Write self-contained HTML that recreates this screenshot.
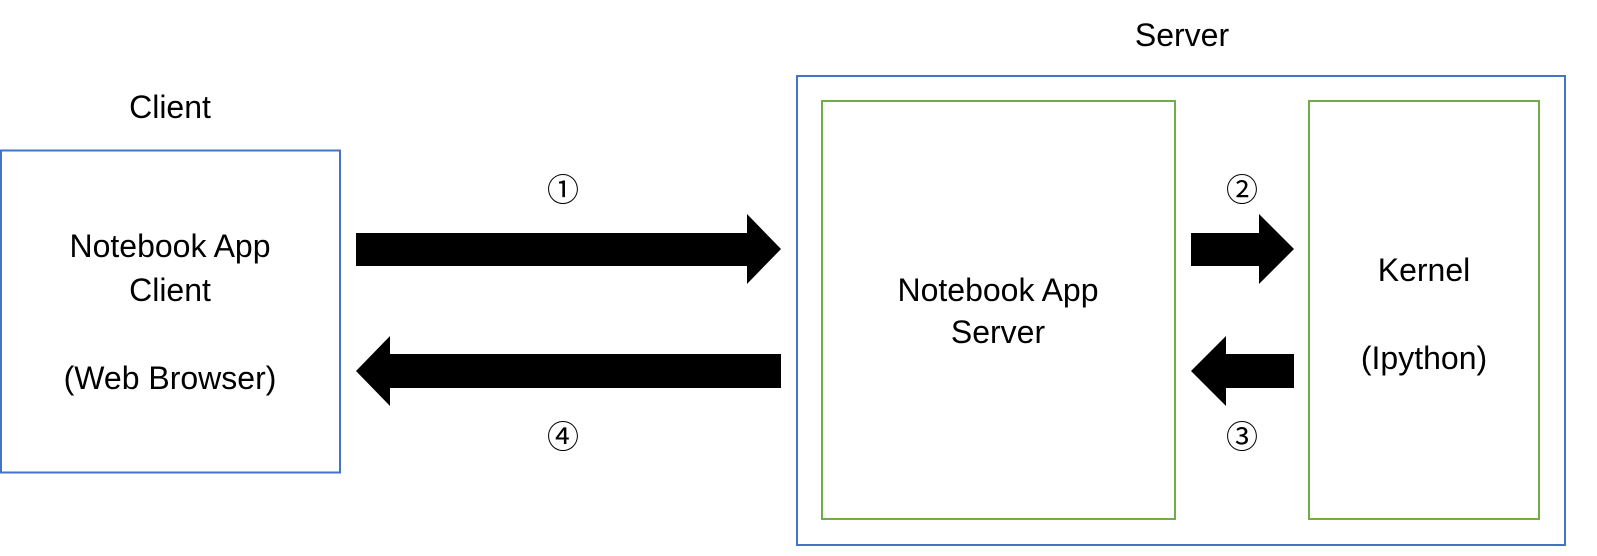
<!DOCTYPE html>
<html><head><meta charset="utf-8"><style>
html,body{margin:0;padding:0;background:#fff;}
svg{display:block;}
text{font-family:"Liberation Sans","Noto Sans CJK KR",sans-serif;font-size:32px;fill:#000;}
</style></head><body>
<svg width="1597" height="556" viewBox="0 0 1597 556" xmlns="http://www.w3.org/2000/svg">
<rect x="1" y="150.5" width="339" height="322" fill="none" stroke="#4472C4" stroke-width="2"/>
<rect x="797" y="76" width="768" height="469" fill="none" stroke="#4472C4" stroke-width="2"/>
<rect x="822" y="101" width="353" height="418" fill="none" stroke="#70AD47" stroke-width="2"/>
<rect x="1309" y="101" width="230" height="418" fill="none" stroke="#70AD47" stroke-width="2"/>
<polygon points="356,233 747,233 747,214 781,249 747,284 747,266 356,266" fill="#000"/>
<polygon points="781,354 390,354 390,336 356,371 390,406 390,388 781,388" fill="#000"/>
<polygon points="1191,233 1259,233 1259,214 1294,249 1259,284 1259,266 1191,266" fill="#000"/>
<polygon points="1294,354 1226,354 1226,336 1191,371 1226,406 1226,388 1294,388" fill="#000"/>
<g text-anchor="middle" dominant-baseline="central">
<text x="170" y="107">Client</text>
<text x="1182" y="35">Server</text>
<text x="170" y="246">Notebook App</text>
<text x="170" y="290">Client</text>
<text x="170" y="378">(Web Browser)</text>
<text x="998" y="290">Notebook App</text>
<text x="998" y="332">Server</text>
<text x="1424" y="270">Kernel</text>
<text x="1424" y="358">(Ipython)</text>
<text x="563" y="190">①</text>
<text x="1242" y="190">②</text>
<text x="1242" y="437">③</text>
<text x="563" y="437">④</text>
</g>
</svg>
</body></html>
